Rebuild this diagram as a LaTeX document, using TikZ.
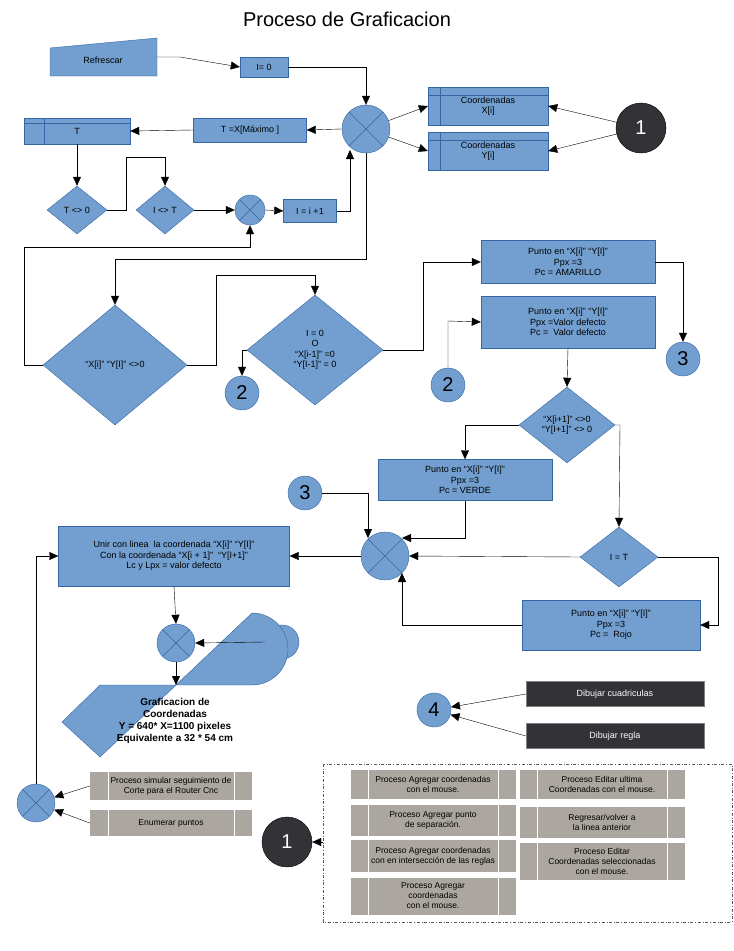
\documentclass[tikz,border=0pt]{standalone}
\usepackage{fontspec}
\setmainfont{Liberation Sans}
\usetikzlibrary{shapes.geometric,arrows.meta,positioning}
\definecolor{azul}{RGB}{114,159,207}
\definecolor{borde}{RGB}{52,101,164}
\definecolor{oscuro}{RGB}{50,50,55}
\definecolor{gris}{RGB}{172,166,160}
\tikzset{
  flecha/.style={-{Triangle[length=9pt,width=8pt]}},
  caja/.style={draw=borde, fill=azul, font=\fontsize{9}{10.5}\selectfont, align=center, inner sep=1pt},
  rombo/.style={diamond, draw=borde, fill=azul, font=\fontsize{9}{10.5}\selectfont, align=center, inner sep=0pt},
  cruz/.style={circle, draw=borde, fill=azul, inner sep=0pt, minimum size=#1,
    path picture={\draw[borde] (path picture bounding box.south west) -- (path picture bounding box.north east)
      (path picture bounding box.north west) -- (path picture bounding box.south east);}},
  conector/.style={circle, draw=borde, fill=azul, inner sep=0pt, minimum size=34pt, font=\fontsize{20}{20}\selectfont},
  negro/.style={circle, draw=black, fill=oscuro, text=white, inner sep=0pt, minimum size=50pt, font=\fontsize{20}{20}\selectfont},
  proceso/.style={fill=gris, font=\fontsize{8.5}{10}\selectfont, align=center, inner sep=1pt},
  oscura/.style={draw=gray, fill=oscuro, text=white, font=\fontsize{9}{10}\selectfont, minimum width=178pt, minimum height=25pt},
}
\begin{document}
\begin{tikzpicture}[x=1pt,y=-1pt]
\useasboundingbox (0,0) rectangle (734,951);
\node[font=\fontsize{20}{22}\selectfont] (titulo) at (347,19) {Proceso de Graficacion};

% parte superior
\draw[borde, fill=azul] (50,48) -- (157,38) -- (157,76) -- (50,76) -- cycle;
\node[font=\fontsize{9}{10}\selectfont] (refrescar) at (103,60) {Refrescar};
\coordinate (refr) at (157,57);
\node[caja, minimum width=48pt, minimum height=20pt] (i0) at (264,67) {I= 0};
\node[cruz=48pt] (x1) at (366,129) {};
\node[caja, minimum width=120pt, minimum height=38pt] (cx) at (488,106) {Coordenadas\\X[i]};
\node[caja, minimum width=120pt, minimum height=38pt] (cy) at (488,151) {Coordenadas\\Y[i]};
\foreach \c in {cx,cy} \draw[borde] ([yshift=-8pt]\c.north west) -- ([yshift=-8pt]\c.north east) ([xshift=12pt]\c.north west) -- ([xshift=12pt]\c.south west);
\node[negro] (uno) at (641,128) {1};
\node[caja, minimum width=113pt, minimum height=24pt] (tmax) at (250,130) {T =X[Máximo ]};
\node[caja, minimum width=106pt, minimum height=26pt] (t) at (77,131) {T};
\draw[borde] ([yshift=-5pt]t.north west) -- ([yshift=-5pt]t.north east) ([xshift=20pt]t.north west) -- ([xshift=20pt]t.south west);
\node[rombo, minimum width=60pt, minimum height=48pt] (t0) at (77,210) {T <> 0};
\node[rombo, minimum width=58pt, minimum height=48pt] (it) at (165,210) {I <> T};
\node[cruz=30pt] (x2) at (250,210) {};
\node[caja, minimum width=53pt, minimum height=23pt] (inc) at (310,211) {I = i +1};

\draw[flecha] (refr) -- (180,57) -- (i0.west);
\draw[flecha] (i0.east) -| (x1.north);
\draw[flecha] (x1) -- (cx.west);
\draw[flecha] (x1) -- (cy.west);
\draw[flecha] (uno) -- (cx.east);
\draw[flecha] (uno) -- (cy.east);
\draw[flecha] (x1.west) -- (tmax.east);
\draw[flecha] (tmax.west) -- (t.east);
\draw[flecha] (t.south) -- (t0.north);
\draw[flecha] (t0.east) -- (126,210) -- (126,157) -| (it.north);
\draw[flecha] (it.east) -- (x2.west);
\draw[flecha] (x2.east) -- (inc.west);
\draw[flecha] (inc.east) -- (350,211) -- (350,150);

% decisiones
\node[rombo, minimum width=144pt, minimum height=120pt] (xy) at (115,365) {“X[i]” “Y[I]” <>0};
\node[rombo, minimum width=136pt, minimum height=110pt] (ic) at (315,350) {I = 0\\O\\“X[i-1]” =0\\“Y[I-1]” = 0};
\node[conector] (dosa) at (242,393) {2};
\draw[flecha] (x1.south) -- (366,259) -| (xy.north);
\draw[flecha] (xy.west) -- (24,365) -- (24,247) -| (x2.south);
\draw[flecha] (xy.east) -- (216,365) -- (216,275) -| (ic.north);
\draw[flecha] (ic.west) -| (dosa.north);

\node[caja, minimum width=174pt, minimum height=43pt] (amar) at (568,262) {Punto en “X[i]” “Y[I]”\\Ppx =3\\Pc = AMARILLO};
\node[caja, minimum width=174pt, minimum height=52pt] (defe) at (568,322) {Punto en “X[i]” “Y[I]”\\Ppx =Valor defecto\\Pc =\ \ Valor defecto};
\node[conector] (tresa) at (683,359) {3};
\node[conector] (dosb) at (448,385) {2};
\draw[flecha] (ic.east) -- (423,350) -- (423,262) -- (amar.west);
\draw[flecha] (dosb.north) -- (448,321) -- (defe.west);
\draw[flecha] (amar.east) -| (tresa.north);

\node[rombo, minimum width=96pt, minimum height=76pt] (sig) at (567,425) {“X[i+1]” <>0\\“Y[I+1]” <> 0};
\node[caja, minimum width=174pt, minimum height=41pt] (verde) at (465,480) {Punto en “X[i]” “Y[I]”\\Ppx =3\\Pc = VERDE};
\node[conector] (tresb) at (305,493) {3};
\node[cruz=48pt] (x3) at (385,556) {};
\node[rombo, minimum width=78pt, minimum height=60pt] (ifin) at (619,557) {I = T};
\node[caja, minimum width=178pt, minimum height=50pt] (rojo) at (611,625) {Punto en “X[i]” “Y[I]”\\Ppx =3\\Pc =\ \ Rojo};
\draw[flecha] (defe.south) -- (sig.north);
\draw[flecha] (sig.west) -| (verde.north);
\draw[flecha] (sig.east) -- (620,425) -- (ifin.north);
\draw[flecha] (tresb.east) -| (368,538);
\draw[flecha] (verde.south) |- (402,538);
\draw[flecha] (ifin.west) -- (x3.east);
\draw[flecha] (ifin.east) -- (718,557) |- (rojo.east);
\draw[flecha] (rojo.west) -| (402,573);

% parte inferior
\node[caja, minimum width=231pt, minimum height=60pt] (unir) at (174,556) {Unir con linea\ \ la coordenada “X[i]” “Y[I]”\\Con la coordenada “X[i + 1]”\ \ “Y[I+1]”\\Lc y Lpx = valor defecto};
\node[cruz=38pt] (x4) at (176,643) {};
\node[conector] (cuatroa) at (282,642) {4};
\draw[borde, fill=azul] (62,722) -- (100,685) -- (252,685) arc[start angle=90, end angle=-90, radius=36] -- (100,757) -- cycle;
\node[font=\bfseries\fontsize{10}{12}\selectfont, align=center] (graf) at (175,721) {Graficacion de\\Coordenadas\\Y = 640* X=1100 pixeles\\Equivalente a 32 * 54 cm};
\draw[flecha] (x3.west) -- (unir.east);
\draw[flecha] (unir.south) -- (x4.north);
\draw[flecha] (cuatroa.west) -- (x4.east);
\draw[flecha] (x4.south) -- (176,685);

\node[conector] (cuatrob) at (434,710) {4};
\node[oscura] (cuad) at (615,694) {Dibujar cuadriculas};
\node[oscura] (regla) at (615,736) {Dibujar regla};
\draw[flecha] (cuad.west) -- (cuatrob);
\draw[flecha] (regla.west) -- (cuatrob);

\node[cruz=38pt] (x5) at (36,803) {};
\node[proceso, minimum width=162pt, minimum height=28pt] (simular) at (171,786) {Proceso simular seguimiento de\\Corte para el Router Cnc};
\node[proceso, minimum width=162pt, minimum height=26pt] (enum) at (171,823) {Enumerar puntos};
\draw[flecha] (simular.west) -- (x5);
\draw[flecha] (enum.west) -- (x5);
\draw[flecha] (x5.north) |- (unir.west);

\draw[dash dot, thick, gray!70!black] (323,764) rectangle (732,922);
\node[negro] (unob) at (287,842) {1};
\node[proceso, minimum width=165pt, minimum height=29pt] (pa) at (433,784) {Proceso Agregar coordenadas\\con el mouse.};
\node[proceso, minimum width=165pt, minimum height=31pt] (pb) at (433,820) {Proceso Agregar punto\\de separación.};
\node[proceso, minimum width=165pt, minimum height=32pt] (pc) at (433,856) {Proceso Agregar coordenadas\\con en intersección de las reglas};
\node[proceso, minimum width=165pt, minimum height=37pt] (pd) at (433,896) {Proceso Agregar\\coordenadas\\con el mouse.};
\node[proceso, minimum width=165pt, minimum height=29pt] (pe) at (602,784) {Proceso Editar ultima\\Coordenadas con el mouse.};
\node[proceso, minimum width=165pt, minimum height=31pt] (pf) at (602,822) {Regresar/volver a\\la linea anterior};
\node[proceso, minimum width=165pt, minimum height=37pt] (pg) at (602,861) {Proceso Editar\\Coordenadas seleccionadas\\con el mouse.};
\foreach \p in {simular,enum,pa,pb,pc,pd,pe,pf,pg}
  \draw[white] ([xshift=18pt]\p.north west) -- ([xshift=18pt]\p.south west) ([xshift=-18pt]\p.north east) -- ([xshift=-18pt]\p.south east);
\draw[flecha] (323,842) -- (unob.east);
\end{tikzpicture}
\end{document}
